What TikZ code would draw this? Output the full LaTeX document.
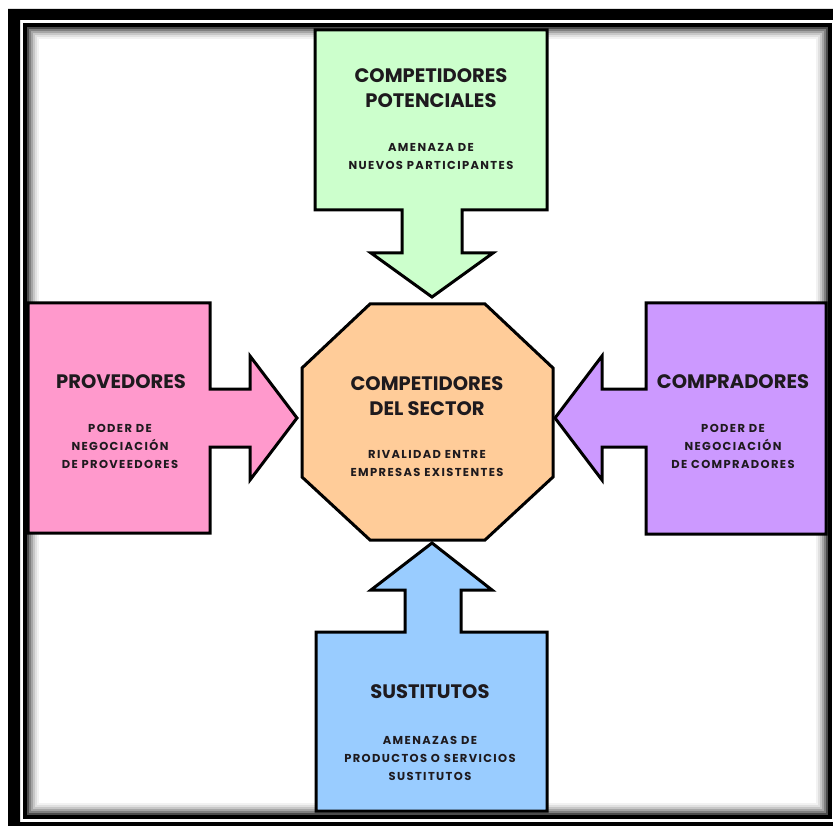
\documentclass[tikz,border=0pt]{standalone}
\usepackage{fontspec}
\setmainfont{Poppins}
\newfontfamily\lemafont{Poppins}[LetterSpace=12]
\usepackage{tikz}
\definecolor{verde}{RGB}{204,255,204}
\definecolor{rosa}{RGB}{255,153,204}
\definecolor{naranja}{RGB}{255,204,153}
\definecolor{lila}{RGB}{204,153,255}
\definecolor{celeste}{RGB}{153,204,255}
\definecolor{tinta}{RGB}{30,26,30}
\begin{document}
\begin{tikzpicture}[x=1pt,y=-1pt,
    forma/.style={draw=black, line width=3, line join=miter},
    titulo/.style={inner sep=0, align=center, text=tinta, font=\bfseries\fontsize{19.5}{25}\selectfont},
    lema/.style={inner sep=0, align=center, text=tinta, font=\lemafont\bfseries\fontsize{11.5}{18}\selectfont}]
        \useasboundingbox (0,0) rectangle (833,826);
        \fill[white] (0,0) rectangle (833,826);
        \fill[black, even odd rule] (8,9) rectangle (845,840) (20,20) rectangle (835,822);
        \foreach \d/\s in {2/70,4/50,6/35,8/22,10/12,12/5}
            \draw[line width=2.2, black!\s] ({26+\d},{26+\d}) rectangle ({829-\d},{816-\d});
        \draw[line width=4] (25,25) rectangle (830,817);
        \fill[forma, fill=verde] (315,30) -- (547,30) -- (547,210) -- (462,210) -- (462,253) -- (493,253)
            -- (432,297) -- (371,253) -- (402,253) -- (402,210) -- (315,210) -- cycle;
        \fill[forma, fill=celeste] (316,811) -- (547,811) -- (547,632) -- (461,632) -- (461,590) -- (492,590)
            -- (432,543) -- (371,590) -- (405,590) -- (405,632) -- (316,632) -- cycle;
        \fill[forma, fill=rosa] (28,303) -- (210,303) -- (210,389) -- (250,389) -- (250,356)
            -- (297,418) -- (250,480) -- (250,447) -- (210,447) -- (210,533) -- (28,533) -- cycle;
        \fill[forma, fill=lila] (826,303) -- (646,303) -- (646,389) -- (602,389) -- (602,356)
            -- (555,418) -- (602,480) -- (602,447) -- (646,447) -- (646,534) -- (826,534) -- cycle;
        \fill[forma, fill=naranja] (370,304) -- (485,304) -- (553,368) -- (553,477) -- (485,540)
            -- (370,540) -- (302,477) -- (302,368) -- cycle;
        \node[titulo] (potencial) at (431,88) {COMPETIDORES\\POTENCIALES};
        \node[lema] (amenaza) at (431,157) {AMENAZA DE\\NUEVOS PARTICIPANTES};
        \node[titulo] (proveedor) at (121,381.5) {PROVEDORES};
        \node[lema] (poderprov) at (120,446) {PODER DE\\NEGOCIACIÓN\\DE PROVEEDORES};
        \node[titulo] (sector) at (427,396.5) {COMPETIDORES\\DEL SECTOR};
        \node[lema] (rivalidad) at (427,464) {RIVALIDAD ENTRE\\EMPRESAS EXISTENTES};
        \node[titulo] (comprador) at (733,381.5) {COMPRADORES};
        \node[lema] (podercomp) at (733,446) {PODER DE\\NEGOCIACIÓN\\DE COMPRADORES};
        \node[titulo] (sustituto) at (430,692) {SUSTITUTOS};
        \node[lema] (servicios) at (430,758) {AMENAZAS DE\\PRODUCTOS O SERVICIOS\\SUSTITUTOS};
\end{tikzpicture}
\end{document}
